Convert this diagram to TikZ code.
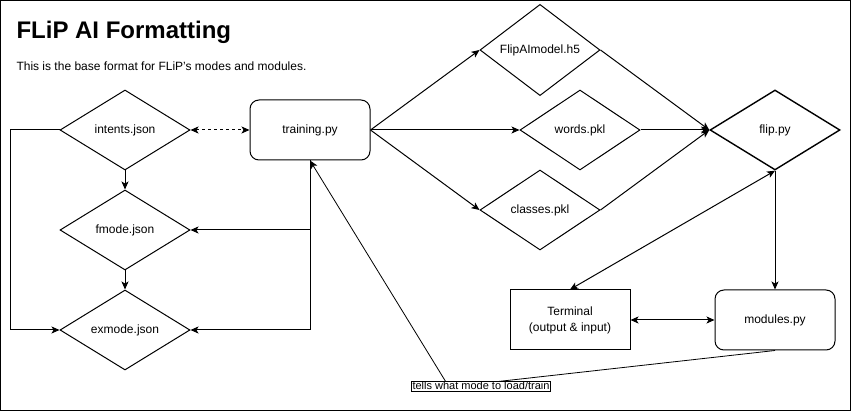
\documentclass[tikz,border=0pt]{standalone}
\usepackage{fontspec}
\setmainfont{Liberation Sans}
\usetikzlibrary{shapes.geometric,arrows.meta}

\begin{document}
\begin{tikzpicture}[x=1pt,y=-1pt,line width=1pt,
    every node/.style={font=\fontsize{12}{16}\selectfont},
    datafile/.style={diamond, draw, fill=white, inner sep=0pt,
      minimum width=120pt, minimum height=80pt},
    script/.style={rectangle, rounded corners=9pt, draw, fill=white,
      minimum width=120pt, minimum height=60pt, align=center},
    flow/.style={-{Stealth[length=8pt,width=7pt,inset=2pt]}},
    twoway/.style={{Stealth[length=8pt,width=7pt,inset=2pt]}-{Stealth[length=8pt,width=7pt,inset=2pt]}},
  ]
  \useasboundingbox (0,0) rectangle (851,411);
  \draw (0.5,0.5) rectangle (850.5,410.5);

  % heading
  \node (title) [anchor=base west, inner sep=0pt,
    font=\fontsize{24}{28}\selectfont\bfseries] at (16,39) {FLiP AI Formatting};
  \node (subtitle) [anchor=base west, inner sep=0pt] at (16,71)
    {This is the base format for FLiP's modes and modules.};

  % mode files
  \node (intents) [datafile, minimum width=130pt] at (125,130) {intents.json};
  \node (fmode) [datafile, minimum width=130pt] at (125,230) {fmode.json};
  \node (exmode) [datafile, minimum width=130pt] at (125,330) {exmode.json};
  \node (training) [script] at (310,130) {training.py};

  % trained data
  \node (model) [datafile] at (540,50) {FlipAImodel.h5};
  \node (words) [datafile] at (580,130) {words.pkl};
  \node (classes) [datafile] at (540,210) {classes.pkl};
  \node (flip) [datafile, minimum width=130pt, line width=1.4pt] at (775,130) {flip.py};

  % runtime
  \node (terminal) [script, rounded corners=0pt] at (570,320)
    {Terminal\\(output \& input)};
  \node (modules) [script] at (775,320) {modules.py};

  \coordinate (rail) at (10,130);
  \coordinate (bend) at (449,387);

  \draw [twoway, dash pattern=on 3pt off 3pt] (intents.east) -- (training.west);
  \draw [flow] (intents.south) -- (fmode.north);
  \draw [flow] (fmode.south) -- (exmode.north);
  \draw [flow] (intents.west) -- (rail) |- (exmode.west);
  \draw [flow] (training.south) |- (fmode.east);
  \draw [flow] (training.south) |- (exmode.east);

  \draw [flow] (training.east) -- (model.west);
  \draw [flow] (training.east) -- (words.west);
  \draw [flow] (training.east) -- (classes.west);
  \draw [flow] (model.east) -- (flip.west);
  \draw [flow] (words.east) -- (flip.west);
  \draw [flow] (classes.east) -- (flip.west);

  \draw [twoway] (terminal.north) -- (flip.south);
  \draw [flow] (flip.south) -- (modules.north);
  \draw [twoway] (terminal.east) -- (modules.west);

  \draw [flow, line width=0.8pt] (modules.south) -- (bend) -- (training.south);
  \node (hint) [draw, fill=white, line width=0.8pt, inner sep=1pt,
    font=\fontsize{11}{13}\selectfont] at (481,386) {tells what mode to load/train};
\end{tikzpicture}
\end{document}
